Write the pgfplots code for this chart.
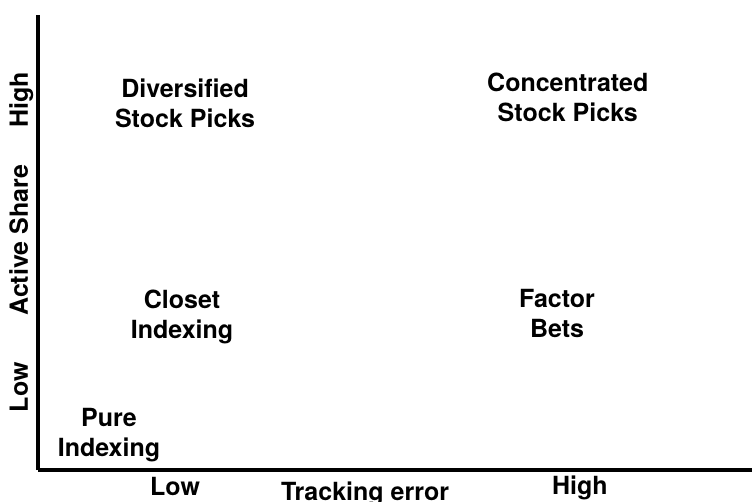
\documentclass[border=0pt]{standalone}
\usepackage{fontspec}
\setmainfont{TeX Gyre Heros}
\usepackage{pgfplots}
\pgfplotsset{compat=1.18}

\tikzset{
  lab/.style={font=\fontsize{25bp}{30bp}\selectfont\bfseries, align=center, inner sep=0pt},
}

\begin{document}
\begin{tikzpicture}
\begin{axis}[
    scale only axis,
    width=714bp,
    height=455bp,
    xmin=0, xmax=1,
    ymin=0, ymax=1,
    axis lines=left,
    axis line style={-, line width=3.4bp, black},
    xtick=\empty, ytick=\empty,
    clip=false
]

% quadrant labels
\node[lab] at (axis cs:0.206,0.805) {Diversified\\Stock Picks};
\node[lab] at (axis cs:0.742,0.818) {Concentrated\\Stock Picks};
\node[lab] at (axis cs:0.2017,0.336) {Closet\\Indexing};
\node[lab] at (axis cs:0.727,0.345) {Factor\\Bets};
\node[lab] at (axis cs:0.0994,0.0758) {Pure\\Indexing};

% x axis labels
\node[lab, anchor=base] at (axis cs:0.192,-0.055) {Low};
\node[lab, anchor=base] at (axis cs:0.458,-0.068) {Tracking error};
\node[lab, anchor=base] at (axis cs:0.759,-0.053) {High};

% y axis labels
\node[lab, anchor=base, rotate=90] at (axis cs:-0.014,0.813) {High};
\node[lab, anchor=base, rotate=90] at (axis cs:-0.014,0.505) {Active Share};
\node[lab, anchor=base, rotate=90] at (axis cs:-0.014,0.182) {Low};

\coordinate (bl) at (rel axis cs:-0.0532,-0.0681);
\coordinate (tr) at (rel axis cs:1,1.033);
\end{axis}
\pgfresetboundingbox
\path[use as bounding box] (bl) rectangle (tr);
\end{tikzpicture}
\end{document}
